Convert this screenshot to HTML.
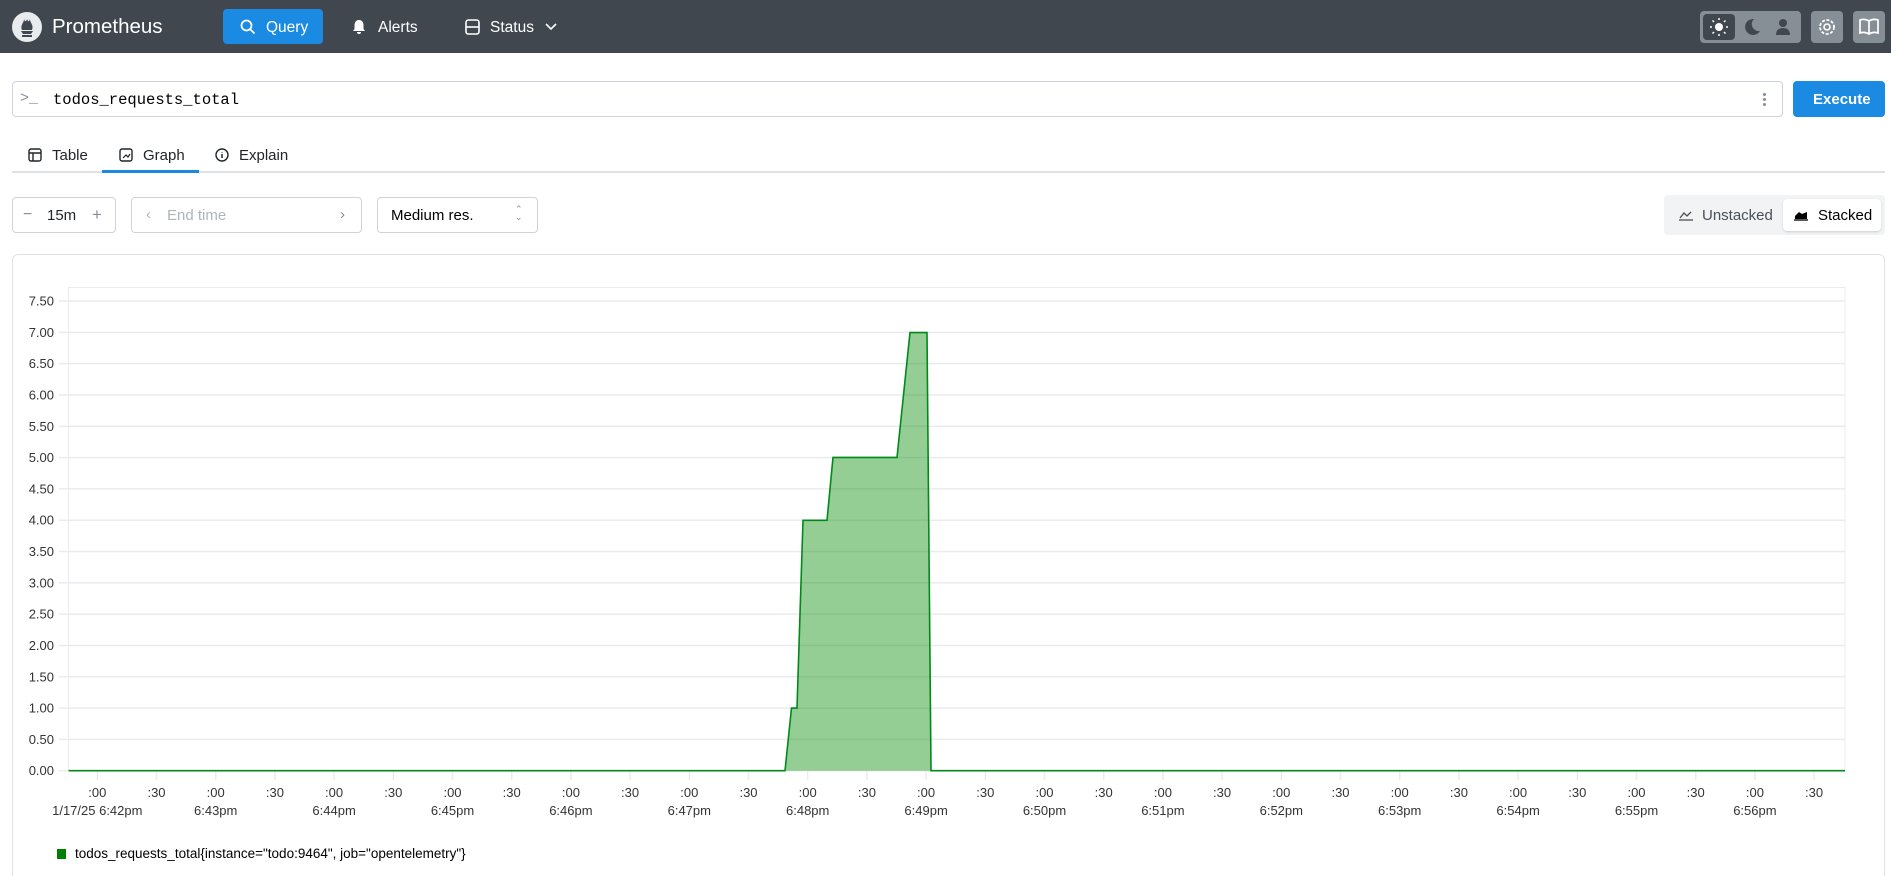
<!DOCTYPE html>
<html style="width:1891px;height:876px;overflow:hidden"><head><meta charset="utf-8"><style>
*{box-sizing:border-box;margin:0;padding:0}
body{width:1891px;height:876px;overflow:hidden;background:#fff;font-family:"Liberation Sans",sans-serif;color:#212529;position:relative}
.a{position:absolute}
.nav{left:0;top:0;width:1891px;height:53px;background:#41474f}
.t{white-space:nowrap}
.box{border:1px solid #ced4da;border-radius:4px;background:#fff}
</style></head><body>
<div class="a nav"></div>
<svg class="a" style="left:12px;top:12px" width="30" height="30" viewBox="0 0 30 30"><circle cx="15" cy="15" r="15" fill="#e9ecef"/><path d="M9 19h12l-2 3h-8z M10 23h10v2h-10z" fill="#41474f"/><path d="M10 18c-2-5 2-7 2-11 1 3 2 3 3 0 1 3 2 3 3 0 0 4 4 6 2 11z" fill="#41474f"/></svg>
<div class="a t" style="left:52px;top:15px;font-size:20.5px;color:#fff">Prometheus</div>
<div class="a" style="left:223px;top:9px;width:100px;height:35px;background:#1a8ae3;border-radius:4px"></div>
<svg class="a" style="left:240px;top:19px" width="16" height="16"><circle cx="6.5" cy="6.5" r="5" stroke="#fff" stroke-width="1.8" fill="none"/><path d="M10 10l4.5 4.5" stroke="#fff" stroke-width="1.8"/></svg>
<div class="a t" style="left:266px;top:19px;font-size:15.5px;color:#fff">Query</div>
<svg class="a" style="left:352px;top:19px" width="14" height="16"><path d="M7 1c-3 0-4.5 2.5-4.5 5v4L1 12h12l-1.5-2V6c0-2.5-1.5-5-4.5-5z M5 13h4a2 2 0 0 1-4 0z" fill="#fff"/></svg>
<div class="a t" style="left:378px;top:19px;font-size:15.5px;color:#fff">Alerts</div>
<svg class="a" style="left:465px;top:19px" width="15" height="16"><rect x="1" y="1" width="13" height="14" rx="2.5" stroke="#fff" stroke-width="1.6" fill="none"/><path d="M1 8h13" stroke="#fff" stroke-width="1.6"/></svg>
<div class="a t" style="left:490px;top:19px;font-size:15.5px;color:#fff">Status</div>
<svg class="a" style="left:545px;top:23px" width="12" height="8"><path d="M1 1l5 5 5-5" stroke="#fff" stroke-width="1.6" fill="none"/></svg>
<div class="a" style="left:1700px;top:11px;width:101px;height:32px;background:#868e96;border-radius:4px"></div>
<div class="a" style="left:1703px;top:14px;width:32px;height:26px;background:#41474f;border-radius:4px"></div>
<svg class="a" style="left:1710px;top:18px" width="18" height="18"><circle cx="9" cy="9" r="4" fill="#fff"/><g stroke="#fff" stroke-width="1.5"><path d="M9 0v2M9 16v2M0 9h2M16 9h2M2.5 2.5l1.5 1.5M14 14l1.5 1.5M2.5 15.5L4 14M14 4l1.5-1.5"/></g></svg>
<svg class="a" style="left:1743px;top:18px" width="18" height="18"><path d="M11 1a8 8 0 1 0 6 12A7 7 0 0 1 11 1z" fill="#41474f"/></svg>
<svg class="a" style="left:1775px;top:18px" width="16" height="18"><circle cx="8" cy="5" r="4" fill="#41474f"/><path d="M1 17c0-5 3-7 7-7s7 2 7 7z" fill="#41474f"/></svg>
<div class="a" style="left:1811px;top:11px;width:32px;height:32px;background:#868e96;border-radius:4px"></div>
<svg class="a" style="left:1817px;top:17px" width="20" height="20"><circle cx="10" cy="10" r="3" stroke="#fff" stroke-width="1.6" fill="none"/><circle cx="10" cy="10" r="7" stroke="#fff" stroke-width="1.8" fill="none" stroke-dasharray="3 1.6"/></svg>
<div class="a" style="left:1853px;top:11px;width:32px;height:32px;background:#868e96;border-radius:4px"></div>
<svg class="a" style="left:1859px;top:18px" width="20" height="18"><path d="M10 3C7 1 4 1 1 2v13c3-1 6-1 9 1 3-2 6-2 9-1V2c-3-1-6-1-9 1zM10 3v13" stroke="#fff" stroke-width="1.7" fill="none"/></svg>

<div class="a box" style="left:12px;top:81px;width:1771px;height:36px"></div>
<div class="a t" style="left:20px;top:90px;font-size:15px;color:#868e96;font-family:'Liberation Mono',monospace">&gt;_</div>
<div class="a t" style="left:53px;top:91px;font-size:15.5px;font-family:'Liberation Mono',monospace;color:#000">todos_requests_total</div>
<div class="a" style="left:1763px;top:93px;width:3px;height:3px;background:#868e96;border-radius:2px;box-shadow:0 5px 0 #868e96,0 10px 0 #868e96"></div>
<div class="a" style="left:1793px;top:81px;width:92px;height:36px;background:#1a8ae3;border-radius:4px"></div>
<div class="a t" style="left:1813px;top:91px;font-size:15px;color:#fff;font-weight:bold">Execute</div>

<div class="a" style="left:12px;top:171px;width:1873px;height:2px;background:#dee2e6"></div>
<div class="a" style="left:102px;top:170px;width:97px;height:3px;background:#1a8ae3"></div>
<svg class="a" style="left:28px;top:148px" width="14" height="14"><rect x="1" y="1" width="12" height="12" rx="2" stroke="#212529" stroke-width="1.4" fill="none"/><path d="M1 5h12M5 5v8" stroke="#212529" stroke-width="1.4"/></svg>
<div class="a t" style="left:52px;top:147px;font-size:15px">Table</div>
<svg class="a" style="left:119px;top:148px" width="14" height="14"><rect x="1" y="1" width="12" height="12" rx="2" stroke="#212529" stroke-width="1.4" fill="none"/><path d="M4 10l3-3 2 2 2-3" stroke="#212529" stroke-width="1.2" fill="none"/></svg>
<div class="a t" style="left:143px;top:147px;font-size:15px">Graph</div>
<svg class="a" style="left:215px;top:148px" width="14" height="14"><circle cx="7" cy="7" r="6" stroke="#212529" stroke-width="1.4" fill="none"/><path d="M7 6v4M7 4v.5" stroke="#212529" stroke-width="1.5"/></svg>
<div class="a t" style="left:239px;top:147px;font-size:15px">Explain</div>

<div class="a box" style="left:12px;top:197px;width:104px;height:36px"></div>
<div class="a t" style="left:23px;top:206px;font-size:16px;color:#868e96">−</div>
<div class="a t" style="left:47px;top:207px;font-size:15px">15m</div>
<div class="a t" style="left:92px;top:205px;font-size:17px;color:#868e96">+</div>
<div class="a box" style="left:131px;top:197px;width:231px;height:36px"></div>
<div class="a t" style="left:146px;top:206px;font-size:15px;color:#adb5bd">‹</div>
<div class="a t" style="left:167px;top:207px;font-size:15px;color:#adb5bd">End time</div>
<div class="a t" style="left:340px;top:206px;font-size:15px;color:#868e96">›</div>
<div class="a box" style="left:377px;top:197px;width:161px;height:36px"></div>
<div class="a t" style="left:391px;top:207px;font-size:15px;color:#000">Medium res.</div>
<div class="a t" style="left:515px;top:205px;font-size:9px;color:#868e96;line-height:8px">⌃<br>⌄</div>
<div class="a" style="left:1664px;top:195px;width:221px;height:40px;background:#f1f3f5;border-radius:4px"></div>
<div class="a" style="left:1783px;top:199px;width:98px;height:32px;background:#fff;border-radius:4px;box-shadow:0 1px 2px rgba(0,0,0,.15)"></div>
<svg class="a" style="left:1679px;top:209px" width="14" height="12"><path d="M1 9l4-5 3 3 4-4" stroke="#495057" stroke-width="1.3" fill="none"/><path d="M0 11h14" stroke="#495057" stroke-width="1.3"/></svg>
<div class="a t" style="left:1702px;top:207px;font-size:15px;color:#495057">Unstacked</div>
<svg class="a" style="left:1794px;top:209px" width="14" height="12"><path d="M1 10V7l4-4 3 2 5-2v7z" fill="#000"/><path d="M0 11h14" stroke="#000" stroke-width="1.3"/></svg>
<div class="a t" style="left:1818px;top:207px;font-size:15px;color:#000">Stacked</div>

<div class="a" style="left:12px;top:254px;width:1873px;height:622px;border:1px solid #dee2e6;border-bottom:none;border-radius:6px 6px 0 0"></div>

<svg class="a" style="left:0;top:0" width="1891" height="876" font-family="Liberation Sans, sans-serif">
<rect x="68.5" y="287.5" width="1776.5" height="483" fill="none" stroke="#e9ecef"/>
<g stroke="#e9ecef" stroke-width="1.5" id="g"></g>
<g font-size="13" fill="#333" text-anchor="end" id="yl"></g>
<g id="x" font-size="13" fill="#333" text-anchor="middle"></g>
<polygon points="785,770.7 791.5,708.1 797,708.1 803,520.3 827,520.3 833,457.4 897,457.4 910,332.6 927,332.6 931,770.7" fill="#008a00" fill-opacity="0.42"/>
<polyline points="68.5,770.7 785,770.7 791.5,708.1 797,708.1 803,520.3 827,520.3 833,457.4 897,457.4 910,332.6 927,332.6 931,770.7 1845,770.7" fill="none" stroke="#008a1a" stroke-width="1.6"/>
<rect x="57" y="849" width="9" height="10" fill="#008000"/>
<text x="75" y="858" font-size="13.5" fill="#000">todos_requests_total{instance="todo:9464", job="opentelemetry"}</text>
</svg>
<script>
var ns="http://www.w3.org/2000/svg",g=document.getElementById('g'),yl=document.getElementById('yl'),x=document.getElementById('x');
function el(p,t,a){var e=document.createElementNS(ns,t);for(var k in a)e.setAttribute(k,a[k]);p.appendChild(e);return e;}
for(var i=0;i<=15;i++){var y=770.7-i*31.31;el(g,'line',{x1:59,x2:1845,y1:y,y2:y});var t=el(yl,'text',{x:54,y:y+4.5});t.textContent=(i*0.5).toFixed(2);}
for(var j=0;j<30;j++){var xx=97.3+j*59.2;el(g,'line',{x1:xx,x2:xx,y1:771,y2:780});var t=el(x,'text',{x:xx,y:797});t.textContent=j%2?':30':':00';
if(j%2==0){var m=42+j/2;var t2=el(x,'text',{x:xx,y:815});t2.textContent=(j==0?'1/17/25 ':'')+'6:'+m+'pm';}}
</script>
</body></html>
